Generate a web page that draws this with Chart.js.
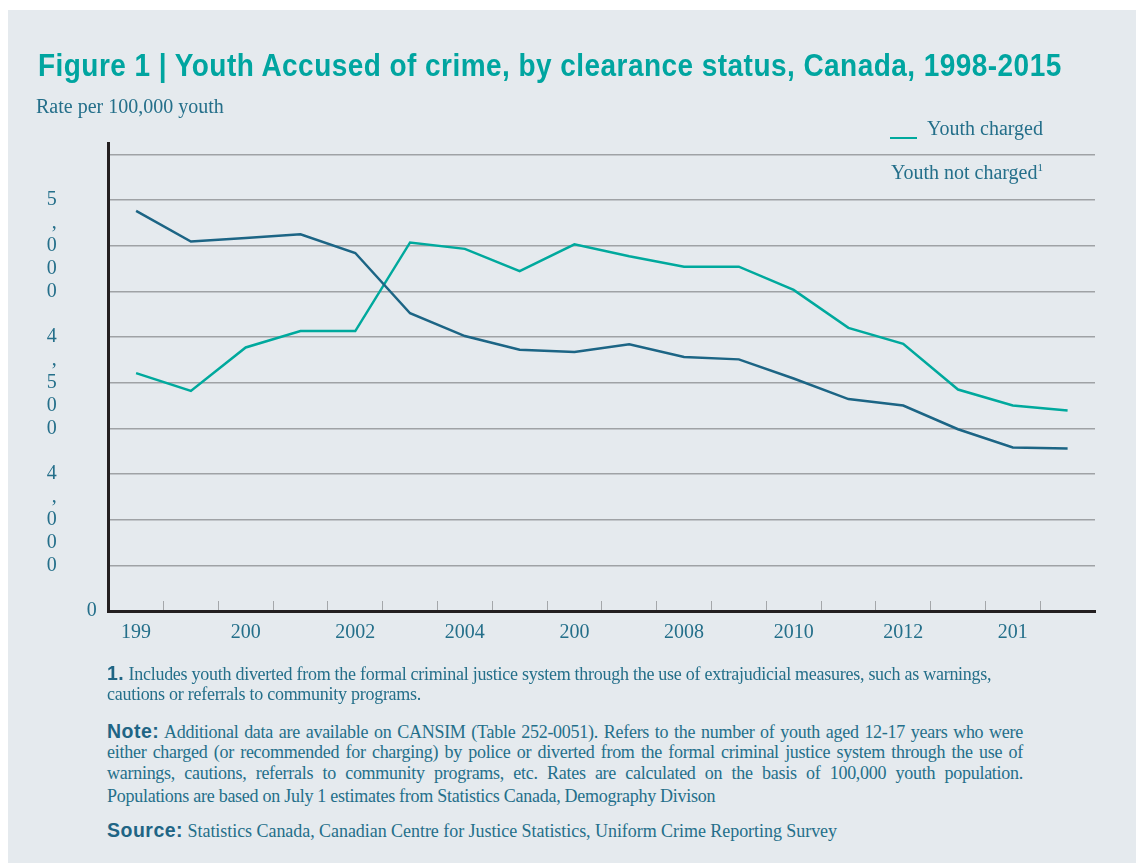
<!DOCTYPE html>
<html>
<head>
<meta charset="utf-8">
<script src="https://cdn.jsdelivr.net/npm/chart.js@4.4.0/dist/chart.umd.min.js"></script>
<style>
    body { margin: 0; width: 1136px; height: 863px; overflow: hidden; position: relative; background: #fff; }
    #panel { position: absolute; left: 8px; top: 10px; right: 0; bottom: 0; background: #e5eaee; }
    #youthChart { position: absolute; left: 0; top: 0; }
    .txt { position: absolute; white-space: nowrap; font-family: "Liberation Serif", serif; color: #246f8a; }
    .title { left: 38px; top: 47px; font: bold 28px "Liberation Sans", sans-serif; letter-spacing: 0.45px; color: #00a5a0;
        transform: scaleY(1.15); transform-origin: 0 0; }
    .sans { font-family: "Liberation Sans", sans-serif; font-weight: 900; font-size: 19.5px; letter-spacing: 0.5px; color: #1f6585; }
    .foot { font-size: 18px; letter-spacing: -0.27px; line-height: 21px; }
    .just { width: 916px; white-space: normal; text-align: justify; text-align-last: justify; }
</style>
</head>
<body>
<div id="panel"></div>
<canvas id="youthChart" width="1136" height="700"></canvas>

<div class="txt title">Figure 1 | Youth Accused of crime, by clearance status, Canada, 1998-2015</div>
<div class="txt" style="left:36px;top:95px;font-size:20px;">Rate per 100,000 youth</div>

<div style="position:absolute;left:890px;top:137px;width:27px;height:1.5px;background:#00a99d;"></div>
<div class="txt" style="left:927px;top:117px;font-size:20px;">Youth charged</div>
<div class="txt" style="left:891px;top:161px;font-size:20px;">Youth not charged<sup style="font-size:11px;">1</sup></div>

<div class="txt foot" style="left:107px;top:663px;"><span class="sans">1.</span> Includes youth diverted from the formal criminal justice system through the use of extrajudicial measures, such as warnings,</div>
<div class="txt foot" style="left:107px;top:684px;">cautions or referrals to community programs.</div>
<div class="txt foot just" style="left:107px;top:721px;"><span class="sans">Note:</span> Additional data are available on CANSIM (Table 252-0051). Refers to the number of youth aged 12-17 years who were</div>
<div class="txt foot just" style="left:107px;top:742px;">either charged (or recommended for charging) by police or diverted from the formal criminal justice system through the use of</div>
<div class="txt foot just" style="left:107px;top:763px;">warnings, cautions, referrals to community programs, etc. Rates are calculated on the basis of 100,000 youth population.</div>
<div class="txt foot" style="left:107px;top:786px;">Populations are based on July 1 estimates from Statistics Canada, Demography Divison</div>
<div class="txt foot" style="left:107px;top:820px;letter-spacing:-0.05px;"><span class="sans">Source:</span> Statistics Canada, Canadian Centre for Justice Statistics, Uniform Crime Reporting Survey</div>

<script>
// years on the x axis (labels are printed truncated, as in the source figure)
const years = ['1998', '1999', '2000', '2001', '2002', '2003', '2004', '2005', '2006',
    '2007', '2008', '2009', '2010', '2011', '2012', '2013', '2014', '2015'];
const xTickLabels = ['199', '', '200', '', '2002', '', '2004', '', '200',
    '', '2008', '', '2010', '', '2012', '', '201', ''];

// rate per 100,000 youth
const youthCharged = [4380, 4045, 4085, 4125, 3920, 3260, 3010, 2860, 2835,
    2920, 2780, 2755, 2545, 2320, 2250, 1990, 1790, 1780];
const youthNotCharged = [2605, 2410, 2885, 3065, 3065, 4035, 3965, 3720, 4015,
    3885, 3770, 3770, 3515, 3100, 2925, 2425, 2250, 2195];

const yTickValues = [0, 500, 1000, 1500, 2000, 2500, 3000, 3500, 4000, 4500, 5000];
const yTickLabels = ['0', '', '4,000', '', '', '4,500', '', '', '5,000', '', ''];

const textColor = '#246f8a';

new Chart(document.getElementById('youthChart'), {
    type: 'line',
    data: {
        labels: years,
        datasets: [
            {
                label: 'Youth charged',
                data: youthCharged,
                borderColor: '#1c6585',
                borderWidth: 2.5,
                pointRadius: 0,
                tension: 0,
            },
            {
                label: 'Youth not charged',
                data: youthNotCharged,
                borderColor: '#00a99d',
                borderWidth: 2.5,
                pointRadius: 0,
                tension: 0,
            },
        ],
    },
    options: {
        responsive: false,
        animation: false,
        devicePixelRatio: 1,
        layout: {
            padding: { left: 0, top: 143, right: 41, bottom: 49 },
        },
        plugins: {
            legend: { display: false },
            tooltip: { enabled: false },
        },
        scales: {
            x: {
                offset: true,
                afterFit: function (scale) { scale.height = 40; },
                border: { display: true, width: 3, color: '#231f20' },
                grid: {
                    offset: true,
                    drawOnChartArea: false,
                    drawTicks: true,
                    tickLength: -10,
                    lineWidth: 1,
                    color: function (ctx) {
                        if (ctx.type !== 'tick' || ctx.index === 0) return 'rgba(0,0,0,0)';
                        return '#a4a7aa';
                    },
                },
                ticks: {
                    autoSkip: false,
                    maxRotation: 0,
                    padding: 20,
                    color: textColor,
                    font: { family: 'Liberation Serif', size: 20, lineHeight: 1.2 },
                    callback: function (value, index) {
                        return xTickLabels[index];
                    },
                },
            },
            y: {
                min: 0,
                max: 5124,
                afterFit: function (scale) { scale.width = 108.7; },
                afterBuildTicks: function (scale) {
                    scale.ticks = yTickValues.map(v => ({ value: v }));
                },
                border: { display: true, width: 3, color: '#231f20' },
                grid: {
                    drawTicks: false,
                    lineWidth: 1.5,
                    color: function (ctx) {
                        if (ctx.tick && ctx.tick.value === 0) return 'rgba(0,0,0,0)';
                        return '#9fa2a5';
                    },
                },
                ticks: {
                    autoSkip: false,
                    padding: 12,
                    color: textColor,
                    font: { family: 'Liberation Serif', size: 20, lineHeight: 1.16 },
                    callback: function (value) {
                        const lbl = yTickLabels[yTickValues.indexOf(value)] || '';
                        if (lbl.length <= 1) return lbl;
                        // the source prints these labels one character per line, left of the "0"
                        return lbl.split('').map(c => c + '        ');
                    },
                },
            },
        },
    },
});
</script>
</body>
</html>
